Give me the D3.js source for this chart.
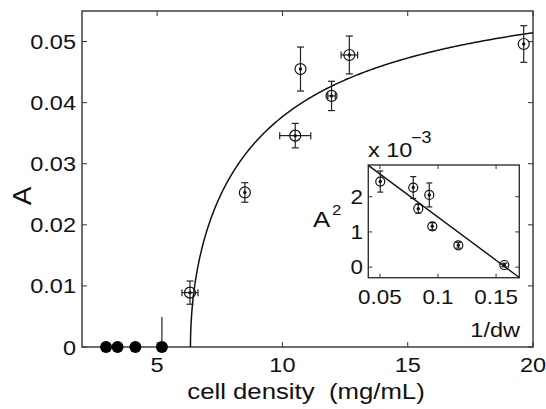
<!DOCTYPE html>
<html>
<head>
<meta charset="utf-8">
<script src="https://cdn.jsdelivr.net/npm/d3@7"></script>
<style>
  body { margin: 0; background: #fff; }
  text { font-family: "Liberation Sans", Arial, Helvetica, sans-serif; fill: #111; }
</style>
</head>
<body>
<svg id="chart" width="546" height="409"></svg>
<script>
// main panel: amplitude A vs cell density (mg/mL)
var densityOpen = [6.31, 8.5, 10.51, 10.72, 11.96, 12.67, 19.63];
var ampOpen     = [0.0089, 0.0253, 0.0346, 0.0455, 0.0411, 0.0478, 0.0496];
var ampErr      = [0.0019, 0.0016, 0.0020, 0.0036, 0.0024, 0.0031, 0.0030];
var densityErr  = [0.32, 0.0, 0.62, 0.0, 0.15, 0.33, 0.0];

var densityZero = [2.96, 3.42, 4.13, 5.19];
var ampZeroErr  = [0, 0, 0, 0.0049];   // only the last one has an (upward) bar

// inset: A^2 (x 10^-3) vs 1/dw
var invDw      = [0.0503, 0.0787, 0.0830, 0.0925, 0.0951, 0.1175, 0.1571];
var ampSq      = [2.43, 2.26, 1.66, 2.05, 1.16, 0.62, 0.06];
var ampSqErr   = [0.30, 0.31, 0.13, 0.34, 0.10, 0.08, 0.05];

// linear fit A^2 = fitK * (fitX0 - 1/dw)
var fitK = 0.0245, fitX0 = 0.158;

var xTicks = [5, 10, 15, 20];
var yTicks = [0, 0.01, 0.02, 0.03, 0.04, 0.05];
var insetXTicks = [0.05, 0.1, 0.15];
var insetYTicks = [0, 1, 2];

var svg = d3.select('#chart');
var axisCol = '#333';
var stretch = 1.12;   // the source figure's lettering is a bit wide

var m = {left: 82, top: 11, right: 533, bottom: 347};
var x = d3.scaleLinear().domain([2, 20]).range([m.left, m.right]);
var y = d3.scaleLinear().domain([0, 0.055]).range([m.bottom, m.top]);

function label(g, px, py, str, size, anchor) {
    return g.append('text')
        .attr('transform', 'translate(' + px + ',' + py + ') scale(' + stretch + ',1)')
        .attr('text-anchor', anchor || 'start')
        .attr('font-size', size)
        .attr('xml:space', 'preserve')
        .text(str);
}

function frame(g, xs, ys, xt, yt, tickLen) {
    var x0 = xs.range()[0], x1 = xs.range()[1], y0 = ys.range()[0], y1 = ys.range()[1];
    g.append('rect').attr('x', x0).attr('y', y1).attr('width', x1 - x0).attr('height', y0 - y1)
        .attr('fill', 'none').attr('stroke', axisCol).attr('stroke-width', 1.4);
    xt.forEach(function(t) {
        g.append('line').attr('x1', xs(t)).attr('x2', xs(t)).attr('y1', y0).attr('y2', y0 - tickLen)
            .attr('stroke', axisCol);
        g.append('line').attr('x1', xs(t)).attr('x2', xs(t)).attr('y1', y1).attr('y2', y1 + tickLen)
            .attr('stroke', axisCol);
    });
    yt.forEach(function(t) {
        g.append('line').attr('x1', x0).attr('x2', x0 + tickLen).attr('y1', ys(t)).attr('y2', ys(t))
            .attr('stroke', axisCol);
        g.append('line').attr('x1', x1).attr('x2', x1 - tickLen).attr('y1', ys(t)).attr('y2', ys(t))
            .attr('stroke', axisCol);
    });
}

var main = svg.append('g');
frame(main, x, y, xTicks, yTicks, 5);

xTicks.forEach(function(t) { label(main, x(t), 372, String(t), 21, 'middle'); });
yTicks.forEach(function(t) { label(main, 76, y(t) + 7.5, String(t), 21, 'end'); });

label(main, 306, 399, 'cell density  (mg/mL)', 23, 'middle');
main.append('text').attr('transform', 'translate(31,196) rotate(-90) scale(' + stretch + ',1)')
    .attr('text-anchor', 'middle').attr('font-size', 25).text('A');

// fit curve in the main panel
var cStart = 1 / fitX0;
var curvePts = d3.range(0, 401).map(function(i) {
    var c = cStart + (20 - cStart) * Math.pow(i / 400, 2);
    var v = fitK * (fitX0 - 1 / c);
    return [c, Math.sqrt(Math.max(0, v))];
});
main.append('path').datum(curvePts)
    .attr('d', d3.line().x(function(d) { return x(d[0]); }).y(function(d) { return y(d[1]); }))
    .attr('fill', 'none').attr('stroke', '#111').attr('stroke-width', 1.5);

function errBars(g, xs, ys, px, py, ey, ex, cap) {
    px.forEach(function(xv, i) {
        if (ey[i] > 0) {
            var lo = Math.max(ys.domain()[0], py[i] - ey[i]);
            g.append('line').attr('x1', xs(xv)).attr('x2', xs(xv))
                .attr('y1', ys(py[i] + ey[i])).attr('y2', ys(lo)).attr('stroke', '#222').attr('stroke-width', 1.2);
            g.append('line').attr('x1', xs(xv) - cap).attr('x2', xs(xv) + cap)
                .attr('y1', ys(py[i] + ey[i])).attr('y2', ys(py[i] + ey[i])).attr('stroke', '#222').attr('stroke-width', 1.2);
            if (py[i] - ey[i] > ys.domain()[0])
                g.append('line').attr('x1', xs(xv) - cap).attr('x2', xs(xv) + cap)
                    .attr('y1', ys(lo)).attr('y2', ys(lo)).attr('stroke', '#222').attr('stroke-width', 1.2);
        }
        if (ex && ex[i] > 0) {
            g.append('line').attr('x1', xs(xv - ex[i])).attr('x2', xs(xv + ex[i]))
                .attr('y1', ys(py[i])).attr('y2', ys(py[i])).attr('stroke', '#222').attr('stroke-width', 1.2);
            [xv - ex[i], xv + ex[i]].forEach(function(e) {
                g.append('line').attr('x1', xs(e)).attr('x2', xs(e))
                    .attr('y1', ys(py[i]) - cap).attr('y2', ys(py[i]) + cap).attr('stroke', '#222').attr('stroke-width', 1.2);
            });
        }
    });
}

function openMarks(g, xs, ys, px, py, r) {
    px.forEach(function(xv, i) {
        g.append('circle').attr('cx', xs(xv)).attr('cy', ys(py[i])).attr('r', r)
            .attr('fill', 'none').attr('stroke', '#111').attr('stroke-width', 1.2);
        g.append('circle').attr('cx', xs(xv)).attr('cy', ys(py[i])).attr('r', 1.7).attr('fill', '#111');
    });
}

errBars(main, x, y, densityOpen, ampOpen, ampErr, densityErr, 3.5);
openMarks(main, x, y, densityOpen, ampOpen, 5.5);

errBars(main, x, y, densityZero, densityZero.map(function() { return 0; }), ampZeroErr, null, 0);
main.selectAll('.fz').data(densityZero).enter().append('circle')
    .attr('cx', function(d) { return x(d); }).attr('cy', y(0)).attr('r', 6).attr('fill', '#000');

// inset
var ix = d3.scaleLinear().domain([0.04, 0.17]).range([368.3, 519.3]);
var iy = d3.scaleLinear().domain([-0.3, 2.9]).range([277.7, 165]);
var inset = svg.append('g');
inset.append('rect').attr('x', 368.3).attr('y', 165).attr('width', 151).attr('height', 112.7).attr('fill', '#fff');
frame(inset, ix, iy, insetXTicks, insetYTicks, 4);

insetXTicks.forEach(function(t) { label(inset, ix(t), 304, String(t), 20, 'middle'); });
insetYTicks.forEach(function(t) { label(inset, 363, iy(t) + 7, String(t), 20, 'end'); });

label(inset, 520, 337, '1/dw', 21, 'end');
label(inset, 313, 227, 'A', 23);
label(inset, 332, 215, '2', 15);
label(inset, 368, 157, 'x 10', 21);
label(inset, 411, 143, '\u22123', 16);

var fitLine = ix.domain().map(function(v) { return [v, fitK * (fitX0 - v) * 1000]; });
inset.append('path').datum(fitLine)
    .attr('d', d3.line().x(function(d) { return ix(d[0]); }).y(function(d) { return iy(d[1]); }))
    .attr('fill', 'none').attr('stroke', '#111').attr('stroke-width', 1.4);

errBars(inset, ix, iy, invDw, ampSq, ampSqErr, null, 3);
openMarks(inset, ix, iy, invDw, ampSq, 4.5);
</script>
</body>
</html>
